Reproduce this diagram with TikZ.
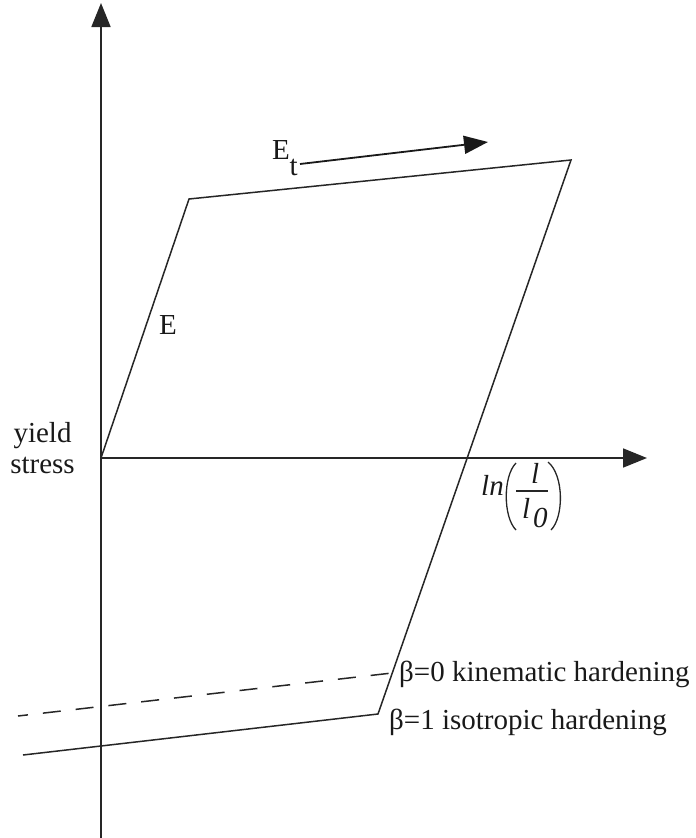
\documentclass[tikz,border=0pt]{standalone}
\usepackage{fontspec}
\setmainfont{Liberation Serif}
\usetikzlibrary{arrows.meta}
\begin{document}
\begin{tikzpicture}[x=1pt,y=-1pt,
  axis/.style={line width=1.8pt,draw=black!85,-{Triangle[length=24pt,width=19pt]}},
  curve/.style={line width=1.5pt,draw=black!85,line join=miter},
  dashcurve/.style={curve,dash pattern=on 18pt off 15pt,dash phase=8pt},
  paren/.style={line width=1.3pt,draw=black!85},
  lbl/.style={font=\fontsize{29}{31}\selectfont,inner sep=0pt,text=black!90},
  ilbl/.style={lbl,font=\fontsize{29}{31}\selectfont\itshape}
]
\useasboundingbox (0,0) rectangle (696,838);
% key points
\coordinate (O) at (101,458);
\coordinate (A) at (189,199);
\coordinate (B) at (571,160);
\coordinate (C) at (378,714);
\coordinate (D) at (23,755);
\coordinate (K1) at (18,716);
\coordinate (K2) at (392,673);
\coordinate (Ybot) at (101,838);
\coordinate (Ytop) at (101,3);
\coordinate (Xend) at (647,458);
\coordinate (Et1) at (300,164);
\coordinate (Et2) at (488,142);
% axes
\draw[axis] (Ybot) -- (Ytop);
\draw[axis] (O) -- (Xend);
% hysteresis path
\draw[curve] (O) -- (A) -- (B) -- (C) -- (D);
\draw[dashcurve] (K1) -- (K2);
% tangent modulus arrow
\draw[line width=1.8pt,draw=black!90,-{Triangle[length=24pt,width=18pt]}] (Et1) -- (Et2);
% labels
\node[lbl,anchor=base] (yl) at (42.5,442) {yield};
\node[lbl,anchor=base] (st) at (42.5,473) {stress};
\node[lbl,anchor=base west] (E) at (159,334) {E};
\node[lbl,anchor=base west] (Etl) at (272,159) {E};
\node[lbl,anchor=base west] (tl) at (289.5,175) {t};
% ln(l/l0)
\node[ilbl,anchor=base west] (lnl) at (481,495) {ln};
\coordinate (LPt) at (516,463);
\coordinate (LPb) at (516,530);
\coordinate (RPt) at (548,462);
\coordinate (RPb) at (551,530);
\draw[paren] (LPt) .. controls (503,476) and (503,517) .. (LPb);
\draw[paren] (RPt) .. controls (564,475) and (564,517) .. (RPb);
\coordinate (FB1) at (516,491);
\coordinate (FB2) at (548,491);
\draw[line width=1.3pt,draw=black!85] (FB1) -- (FB2);
\node[ilbl,anchor=base west] (num) at (531,483) {l};
\node[ilbl,anchor=base west] (den) at (522,518) {l};
\node[ilbl,anchor=base west] (sub) at (533,527) {0};
\node[lbl,anchor=base west] (b0) at (399,681) {β=0 kinematic hardening};
\node[lbl,anchor=base west] (b1) at (389,729) {β=1 isotropic hardening};
\end{tikzpicture}
\end{document}
